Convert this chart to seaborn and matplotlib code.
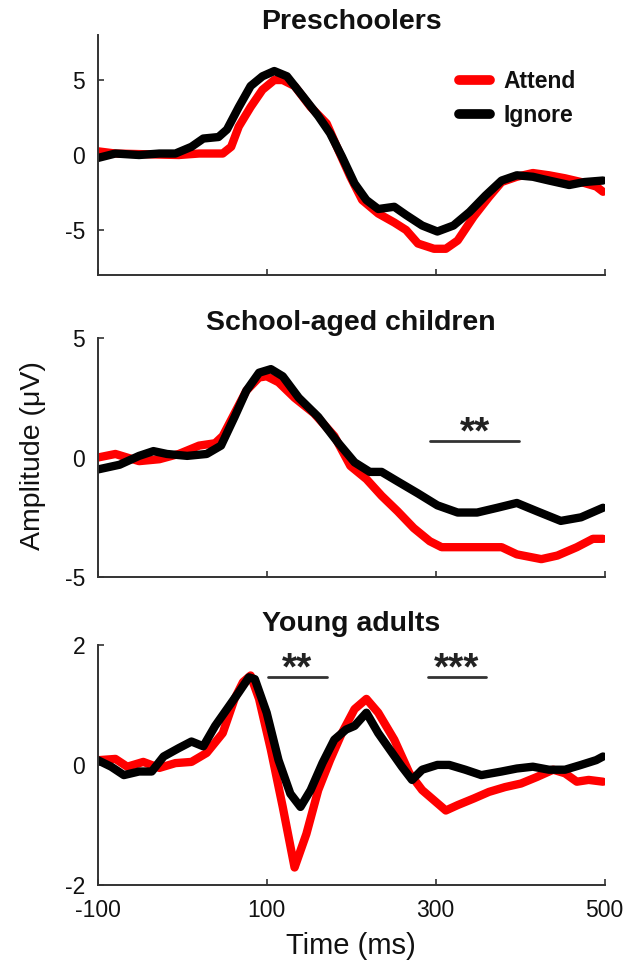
import numpy as np
import pandas as pd
import matplotlib
matplotlib.use("Agg")
import matplotlib.pyplot as plt
import seaborn as sns

sns.set_theme(style="white")
plt.rcParams['font.family'] = ['Liberation Sans', 'DejaVu Sans']
plt.rcParams['axes.unicode_minus'] = False

# ---- data (time in ms, amplitude in uV) ----
# Preschoolers
pre_att_t = [-100, -79, -4, 20, 48, 58, 67, 81, 95, 109, 119, 133, 152, 171, 185, 199, 213,
             232, 251, 265, 279, 298, 312, 326, 345, 363, 378, 396, 415, 434, 453, 472, 490, 498]
pre_att_v = [0.25, 0.1, 0.0, 0.1, 0.1, 0.55, 1.9, 3.2, 4.35, 5.0, 5.0, 4.6, 3.2, 2.1, 0.3, -1.45, -3.0,
             -3.9, -4.5, -5.0, -5.9, -6.25, -6.25, -5.7, -4.1, -2.8, -1.8, -1.45, -1.2, -1.35, -1.55, -1.8, -2.1, -2.45]
pre_ign_t = [-100, -79, -51, -27, -8, 11, 25, 43, 53, 67, 81, 95, 109, 124, 143, 161, 175, 189,
             204, 218, 232, 251, 265, 284, 302, 321, 340, 359, 378, 396, 415, 434, 458, 476, 498]
pre_ign_v = [-0.2, 0.1, 0.0, 0.1, 0.1, 0.55, 1.1, 1.2, 1.7, 3.2, 4.6, 5.25, 5.6, 5.25, 3.9, 2.6, 1.45, -0.1,
             -1.9, -3.0, -3.6, -3.45, -4.0, -4.7, -5.1, -4.7, -3.8, -2.7, -1.7, -1.35, -1.45, -1.7, -2.0, -1.8, -1.7]

# School-aged children
sch_att_t = [-100, -79, -51, -27, -4, 20, 39, 48, 62, 76, 91, 100, 114, 133, 156, 180, 199, 218,
             236, 255, 274, 293, 307, 340, 378, 396, 425, 444, 467, 486, 498]
sch_att_v = [0.0, 0.15, -0.15, -0.07, 0.15, 0.5, 0.6, 0.9, 1.85, 2.8, 3.35, 3.4, 3.15, 2.5, 1.85, 0.9, -0.35, -0.9,
             -1.6, -2.25, -2.95, -3.5, -3.75, -3.75, -3.75, -4.05, -4.25, -4.1, -3.75, -3.4, -3.4]
sch_ign_t = [-100, -74, -51, -34, -18, 6, 29, 46, 62, 76, 91, 105, 119, 138, 161, 185, 204, 222,
             236, 255, 279, 302, 326, 349, 373, 396, 420, 448, 472, 498]
sch_ign_v = [-0.5, -0.3, 0.07, 0.27, 0.15, 0.07, 0.15, 0.5, 1.7, 2.8, 3.55, 3.7, 3.4, 2.5, 1.7, 0.6, -0.2, -0.6,
             -0.6, -1.0, -1.5, -2.0, -2.3, -2.3, -2.1, -1.9, -2.25, -2.65, -2.5, -2.1]

# Young adults
ya_att_t = [-98, -79, -65, -46, -27, -8, 11, 29, 48, 62, 72, 81, 91, 105, 119, 133, 147, 161, 175,
            189, 204, 218, 232, 251, 269, 284, 298, 312, 326, 345, 363, 382, 401, 420, 439, 453, 467, 481, 498]
ya_att_v = [0.08, 0.1, -0.03, 0.05, -0.05, 0.03, 0.05, 0.2, 0.53, 1.1, 1.38, 1.49, 1.1, 0.25, -0.7, -1.71, -1.15, -0.42, 0.08,
            0.53, 0.93, 1.1, 0.87, 0.42, -0.14, -0.42, -0.59, -0.76, -0.67, -0.56, -0.45, -0.37, -0.31, -0.2, -0.08, -0.14, -0.28, -0.25, -0.28]
ya_ign_t = [-100, -84, -69, -51, -36, -22, -4, 11, 25, 39, 53, 67, 79, 86, 100, 114, 128, 140, 152, 166,
            180, 194, 204, 218, 232, 246, 260, 272, 284, 302, 316, 335, 354, 378, 396, 415, 434, 453, 472, 490, 498]
ya_ign_v = [0.08, -0.03, -0.17, -0.11, -0.11, 0.14, 0.28, 0.39, 0.31, 0.65, 0.93, 1.21, 1.46, 1.43, 0.87, 0.08, -0.48, -0.7, -0.42, 0.03,
            0.42, 0.59, 0.65, 0.87, 0.53, 0.25, -0.03, -0.25, -0.08, 0.0, 0.0, -0.08, -0.17, -0.11, -0.06, -0.03, -0.08, -0.08, 0.0, 0.08, 0.14]

titles = ["Preschoolers", "School-aged children", "Young adults"]
ylims = [(-8, 8), (-5, 5), (-2, 2)]
yticks = [[-5, 0, 5], [-5, 0, 5], [-2, 0, 2]]
# significance windows
sig_panel = [1, 2, 2]
sig_start = [293, 102, 291]
sig_end = [399, 171, 359]
sig_y = [0.68, 1.46, 1.46]
sig_label = ["**", "**", "***"]

series = [
    (pre_att_t, pre_att_v, pre_ign_t, pre_ign_v),
    (sch_att_t, sch_att_v, sch_ign_t, sch_ign_v),
    (ya_att_t, ya_att_v, ya_ign_t, ya_ign_v),
]

fig = plt.figure(figsize=(6.26, 9.65), dpi=100)
boxes = [[0.156, 0.715, 0.81, 0.2487],
         [0.156, 0.402, 0.81, 0.2477],
         [0.156, 0.083, 0.81, 0.2487]]
title_pad = [0, 6, 10]
axes = [fig.add_axes(b) for b in boxes]

palette = {"Attend": "#ff0000", "Ignore": "#000000"}

for i, ax in enumerate(axes):
    at, av, it, iv = series[i]
    df = pd.concat([
        pd.DataFrame({"Time": at, "Amp": av, "Condition": "Attend"}),
        pd.DataFrame({"Time": it, "Amp": iv, "Condition": "Ignore"}),
    ])
    sns.lineplot(data=df, x="Time", y="Amp", hue="Condition", palette=palette,
                 hue_order=["Attend", "Ignore"], linewidth=6, ax=ax,
                 legend=(i == 0), estimator=None, sort=True)
    ax.set_xlim(-100, 500)
    ax.set_ylim(*ylims[i])
    ax.set_yticks(yticks[i])
    ax.set_xticks([-100, 100, 300, 500])
    if i < 2:
        ax.set_xticklabels([])
    ax.set_xlabel("")
    ax.set_ylabel("")
    ax.set_title(titles[i], fontsize=20.5, fontweight="bold", pad=title_pad[i],
                 color="#111111")
    for s in ["top", "right"]:
        ax.spines[s].set_visible(False)
    for s in ["left", "bottom"]:
        ax.spines[s].set_color("#333333")
        ax.spines[s].set_linewidth(1.4)
    ax.tick_params(direction="in", length=4, width=1.2, color="#333333",
                   labelsize=16.5, labelcolor="#111111", left=True, bottom=True)
    ax.tick_params(axis="y", pad=9)
    ax.tick_params(axis="x", pad=10)

for p, s0, s1, yv, lab in zip(sig_panel, sig_start, sig_end, sig_y, sig_label):
    ax = axes[p]
    ax.plot([s0, s1], [yv, yv], color="#333333", lw=2)
    ax.annotate(lab, xy=((s0 + s1) / 2, yv), xytext=(0, -1.5), textcoords="offset points",
                ha="center", va="baseline", fontsize=28, fontweight="bold", color="#222222")

leg = axes[0].legend(loc="upper left", bbox_to_anchor=(0.69, 0.9), frameon=False,
                     prop={"size": 16.5, "weight": "bold"}, handlelength=1.35,
                     handletextpad=0.6, labelspacing=0.45, borderpad=0)
for h in leg.get_lines():
    h.set_linewidth(7)
for t in leg.get_texts():
    t.set_color("#111111")

axes[2].set_xlabel("Time (ms)", fontsize=21, labelpad=7, color="#111111")
fig.text(0.053, 0.528, "Amplitude (\u03bcV)", rotation=90, ha="center", va="center",
         fontsize=20.5, color="#111111")

fig.savefig("out.png", dpi=100)
